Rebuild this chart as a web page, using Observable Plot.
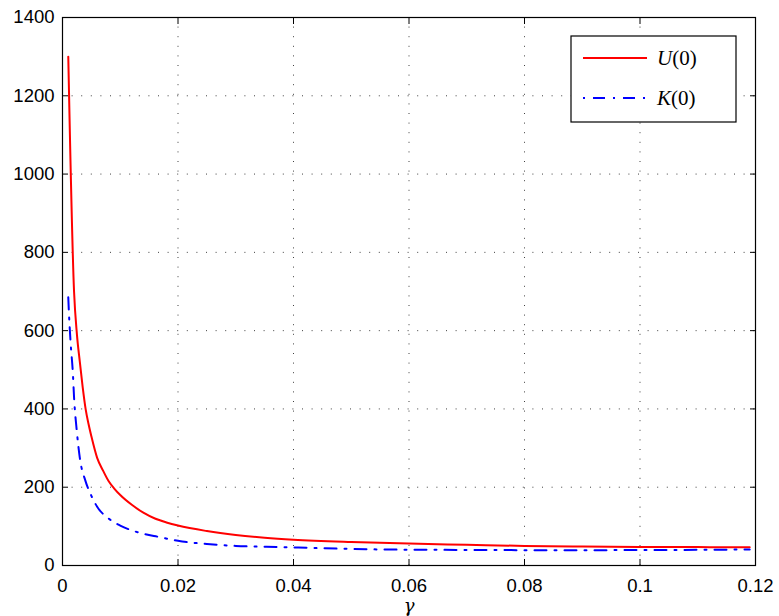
<!DOCTYPE html>
<html><head><meta charset="utf-8">
<script src="https://cdn.jsdelivr.net/npm/d3@7"></script>
<script src="https://cdn.jsdelivr.net/npm/@observablehq/plot@0.6"></script>
<style>body{margin:0;background:#fff}#c{width:779px;height:616px}</style>
</head><body><div id="c"></div>
<script>
const gammaU = [0.001,0.002,0.0025,0.003,0.0035,0.004,0.0045,0.005,0.006,0.007,0.008,0.009,0.010,0.012,0.014,0.016,0.018,0.020,0.025,0.030,0.035,0.040,0.050,0.060,0.070,0.080,0.090,0.100,0.110,0.119];
const U = [1300,700,590,520,455,400,362,330,275,243,215,196,180,155,135,120,110,102,88,78,71,66,60,56,53,50,48.5,47.5,47,46.5];
const gammaK = [0.001,0.0011,0.0014,0.0018,0.002,0.0025,0.003,0.004,0.005,0.006,0.008,0.010,0.013,0.017,0.020,0.025,0.030,0.038,0.045,0.055,0.065,0.075,0.085,0.100,0.110,0.119];
const K = [685,650,570,490,430,340,275,215,178,150,120,102,85,72,63,55,50,47,44,41,40,39.5,39,39.5,40,41];
const xTicks = [0,0.02,0.04,0.06,0.08,0.1,0.12];
const yTicks = [0,200,400,600,800,1000,1200,1400];
const seriesNames = ["U", "K"];
const xLabel = "γ";

const dataU = gammaU.map((g,i)=>({g, v:U[i]}));
const dataK = gammaK.map((g,i)=>({g, v:K[i]}));
const grid = {stroke:"#000", strokeOpacity:0.75, strokeDasharray:"1,8.6"};
const blank = () => "";
const fmt = d => String(d);

const chart = Plot.plot({
  width:779, height:616,
  marginLeft:62, marginRight:24, marginTop:17, marginBottom:51,
  style:{fontFamily:"'Liberation Sans', Arial, Helvetica, sans-serif", fontSize:"18px", background:"#fff", color:"#000", overflow:"visible"},
  x:{domain:[0,0.12]},
  y:{domain:[0,1400]},
  marks:[
    Plot.gridX(xTicks, grid),
    Plot.gridY(yTicks, grid),
    Plot.line(dataU,{x:"g", y:"v", stroke:"#ff0000", strokeWidth:2, curve:"monotone-x"}),
    Plot.line(dataK,{x:"g", y:"v", stroke:"#0000ff", strokeWidth:2, strokeDasharray:"12,8,2,8", curve:"monotone-x"}),
    Plot.frame({stroke:"#000", strokeWidth:1.2}),
    Plot.axisX(xTicks,{anchor:"bottom", tickSize:0, tickPadding:13, label:null, fontSize:18.5, tickFormat:fmt}),
    Plot.axisX(xTicks,{anchor:"bottom", tickSize:-6, tickFormat:blank, label:null}),
    Plot.axisX(xTicks,{anchor:"top", tickSize:-6, tickFormat:blank, label:null}),
    Plot.axisY(yTicks,{anchor:"left", tickSize:0, tickPadding:8, label:null, fontSize:18.5, tickFormat:fmt}),
    Plot.axisY(yTicks,{anchor:"left", tickSize:-6, tickFormat:blank, label:null}),
    Plot.axisY(yTicks,{anchor:"right", tickSize:-6, tickFormat:blank, label:null}),
    Plot.text([xLabel],{frameAnchor:"bottom", dy:46, fontStyle:"italic", fontFamily:"'DejaVu Serif', 'Liberation Serif', serif", fontSize:18})
  ]
});
document.getElementById("c").appendChild(chart);

// legend (MATLAB-style box)
const svg = d3.select(chart);
const lg = svg.append("g");
lg.append("rect").attr("x",571).attr("y",36).attr("width",165).attr("height",86)
  .attr("fill","#fff").attr("stroke","#000").attr("stroke-width",1.2);
const items = [
  {name:seriesNames[0], color:"#ff0000", dash:null, y:58},
  {name:seriesNames[1], color:"#0000ff", dash:"12,8,2,8", y:98}
];
items.forEach(it=>{
  lg.append("line").attr("x1",583).attr("x2",647).attr("y1",it.y).attr("y2",it.y)
    .attr("stroke",it.color).attr("stroke-width",2).attr("stroke-dasharray",it.dash)
    .attr("stroke-dashoffset", it.dash ? -10 : null);
  const t = lg.append("text").attr("x",657).attr("y",it.y+7).attr("text-anchor","start")
    .attr("font-family","'Liberation Serif','DejaVu Serif',serif").attr("font-size",21).attr("fill","#000");
  t.append("tspan").attr("font-style","italic").text(it.name);
  t.append("tspan").text("(0)");
});
</script></body></html>
